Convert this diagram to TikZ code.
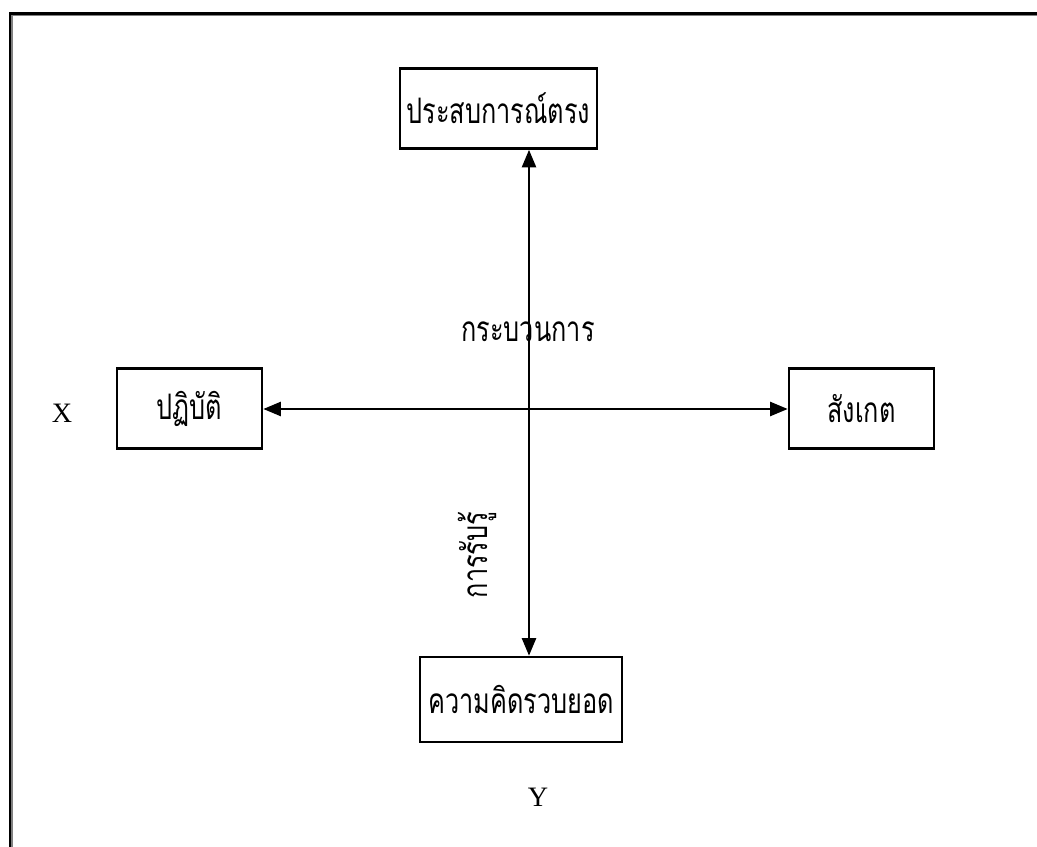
\documentclass[tikz,border=0pt]{standalone}
\usepackage{fontspec}
\setmainfont{Liberation Serif}
\newfontfamily\thaifont[Script=Thai,FakeStretch=0.72]{Loma}
\usetikzlibrary{arrows.meta}
\begin{document}
\begin{tikzpicture}[x=0.02cm,y=-0.02cm,
  box/.style={draw,line width=1.5pt,inner sep=0pt,font=\thaifont\fontsize{20}{24}\selectfont},
  lbl/.style={inner sep=0pt,font=\thaifont\fontsize{20}{24}\selectfont},
  latin/.style={inner sep=0pt,font=\fontsize{16}{18}\selectfont},
  conn/.style={line width=1.3pt,{Triangle[length=10pt,width=8pt]}-{Triangle[length=10pt,width=8pt]}}]
\useasboundingbox (0,0) rectangle (1037,847);
% page border
\draw[line width=1.2pt,black] (10,847) -- (10,13.5) -- (1037,13.5);
\draw[line width=0.6pt,gray] (12,847) -- (12,15.5) -- (1037,15.5);
% boxes
\node[box,minimum width=197*0.02cm,minimum height=80*0.02cm] (top) at (498.5,108.5) {ประสบการณ์ตรง};
\node[box,minimum width=145*0.02cm,minimum height=80*0.02cm] (left) at (189.5,408.5) {ปฏิบัติ};
\node[box,minimum width=145*0.02cm,minimum height=80*0.02cm] (right) at (861.5,408.5) {สังเกต};
\node[box,minimum width=202*0.02cm,minimum height=85*0.02cm] (bot) at (521,699.5) {ความคิดรวบยอด};
% connectors
\coordinate (c) at (529,409);
\draw[conn] (top.south -| c) -- (bot.north -| c);
\draw[conn] (left.east |- c) -- (right.west |- c);
% labels
\node[lbl] (proc) at (528,332) {กระบวนการ};
\node[lbl,rotate=90] (perc) at (477,555) {การรับรู้};
\node[latin] (xl) at (62,413) {X};
\node[latin] (yl) at (538,797) {Y};
\end{tikzpicture}
\end{document}
